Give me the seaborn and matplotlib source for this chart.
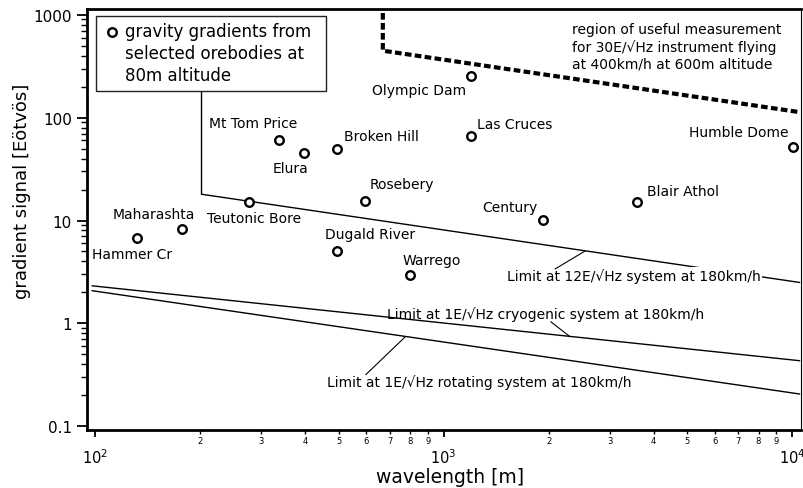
import matplotlib
matplotlib.use("Agg")
import matplotlib.pyplot as plt
import seaborn as sns
import pandas as pd
from matplotlib.ticker import FixedLocator, FixedFormatter
from matplotlib.patches import Rectangle

# Orebody gravity gradient signals (80 m altitude)
sites = ["Hammer Cr", "Maharashta", "Teutonic Bore", "Mt Tom Price", "Elura",
         "Broken Hill", "Rosebery", "Dugald River", "Warrego", "Olympic Dam",
         "Las Cruces", "Century", "Blair Athol", "Humble Dome"]
wavelength_m = [132, 177, 277, 337, 397, 495, 596, 495, 798, 1194, 1194, 1921, 3581, 10045]
signal_eo = [6.7, 8.3, 15.2, 60, 45.7, 49.7, 15.5, 5.0, 2.94, 252, 66, 10.2, 15.2, 52]

# Instrument detection limits
limit12_x = [202, 202, 10500]
limit12_y = [182, 18.0, 2.5]
cryo_x = [98, 10500]
cryo_y = [2.32, 0.434]
rot_x = [98, 10500]
rot_y = [2.08, 0.206]
useful_x = [669, 669, 10500]
useful_y = [1300, 447, 113]

x_major = [100, 1000, 10000]
x_major_labels = [r"$10^{2}$", r"$10^{3}$", r"$10^{4}$"]
x_minor = [m * d for d in (100, 1000) for m in range(2, 10)]
x_minor_labels = [str(m) for d in (100, 1000) for m in range(2, 10)]
y_major = [0.1, 1, 10, 100, 1000]
y_major_labels = ["0.1", "1", "10", "100", "1000"]

sns.set_style("ticks")
plt.rcParams["font.family"] = ["DejaVu Sans"]
plt.rcParams.update({"text.color": "black", "axes.labelcolor": "black",
                     "xtick.color": "black", "ytick.color": "black",
                     "axes.edgecolor": "black"})

W, H = 804, 489
fig = plt.figure(figsize=(W / 100, H / 100), dpi=100)
L, R, T, B = 87.3, 801.0, 10.0, 430.7
ax = fig.add_axes([L / W, 1 - B / H, (R - L) / W, (B - T) / H])
ax.set_xscale("log")
ax.set_yscale("log")
ax.set_xlim(95.0, 10591)
ax.set_ylim(0.0927, 1136)


def px(x, y):
    """pixel position -> axes fraction"""
    return (x - L) / (R - L), (B - y) / (B - T)


def pdata(x, y):
    """pixel position -> data coordinates"""
    return 10 ** (2 + (x - 95.0) / 348.65), 10 ** (3 - (y - 15.7) / 102.9)


df = pd.DataFrame({"site": sites, "wavelength": wavelength_m, "signal": signal_eo})

line_kw = dict(color="black", estimator=None, sort=False, ax=ax, legend=False)
sns.lineplot(x=limit12_x, y=limit12_y, lw=1.0, **line_kw)
sns.lineplot(x=cryo_x, y=cryo_y, lw=1.0, **line_kw)
sns.lineplot(x=rot_x, y=rot_y, lw=1.0, **line_kw)
sns.lineplot(x=useful_x, y=useful_y, lw=3.0, linestyle=(0, (1.6, 0.8)), **line_kw)

sns.scatterplot(data=df, x="wavelength", y="signal", marker="o", s=38,
                color="white", edgecolor="black", linewidth=1.7, zorder=5,
                ax=ax, legend=False)

label_layout = {
    "Hammer Cr": (-5, -16, "center"),
    "Maharashta": (-28, 15, "center"),
    "Teutonic Bore": (5, -16, "center"),
    "Mt Tom Price": (-26, 17, "center"),
    "Elura": (-13, -15, "center"),
    "Broken Hill": (7, 13, "left"),
    "Rosebery": (4, 17, "left"),
    "Dugald River": (-12, 17, "left"),
    "Warrego": (-7, 15, "left"),
    "Olympic Dam": (-4, -14, "right"),
    "Las Cruces": (6, 12, "left"),
    "Century": (-5, 13, "right"),
    "Blair Athol": (10, 11, "left"),
    "Humble Dome": (-4, 15, "right"),
}
for name, xv, yv in zip(sites, wavelength_m, signal_eo):
    dx, dy, ha = label_layout[name]
    ax.annotate(name, (xv, yv), xytext=(dx, dy), textcoords="offset pixels",
                ha=ha, va="center", fontsize=10, zorder=6, color="black")

# limit line labels with leaders
txt_kw = dict(fontsize=10, va="center", ha="left", zorder=6, color="black")
ax.text(*pdata(507, 276.7), "Limit at 12E/\u221aHz system at 180km/h",
        bbox=dict(facecolor="white", edgecolor="none", pad=1.0), **txt_kw)
ax.text(*pdata(386.7, 315), "Limit at 1E/\u221aHz cryogenic system at 180km/h", **txt_kw)
ax.text(*pdata(326.7, 383), "Limit at 1E/\u221aHz rotating system at 180km/h", **txt_kw)
for (x0, y0), (x1, y1) in [((555, 270), (585, 252)),
                           ((550.7, 322.7), (570, 337.7)),
                           ((365.7, 375.7), (405, 338))]:
    a, b = pdata(x0, y0)
    c, d = pdata(x1, y1)
    ax.plot([a, c], [b, d], color="black", lw=0.8, zorder=7)

ax.text(*px(571.7, 47.7), "region of useful measurement\nfor 30E/\u221aHz instrument flying\n"
        "at 400km/h at 600m altitude", transform=ax.transAxes, fontsize=10,
        ha="left", va="center", linespacing=1.25, color="black")

# legend box
x0, y0 = px(95.7, 91.7)
x1, y1 = px(325.7, 16.7)
ax.add_patch(Rectangle((x0, y0), x1 - x0, y1 - y0, transform=ax.transAxes,
                       facecolor="white", edgecolor="#222222", lw=1.0, zorder=4))
mx, my = px(111.7, 32.7)
ax.scatter([mx], [my], transform=ax.transAxes, s=38, marker="o",
           facecolor="white", edgecolor="black", linewidth=1.7, zorder=6)
ax.text(*px(125.3, 54), "gravity gradients from\nselected orebodies at\n80m altitude",
        transform=ax.transAxes, fontsize=12, ha="left", va="center",
        linespacing=1.26, zorder=6, color="black")

# axes styling
for side in ("left", "bottom", "top"):
    ax.spines[side].set_linewidth(2.0)
ax.spines["right"].set_linewidth(0.8)
for s in ax.spines.values():
    s.set_visible(True)
    s.set_color("black")

ax.xaxis.set_major_locator(FixedLocator(x_major))
ax.xaxis.set_major_formatter(FixedFormatter(x_major_labels))
ax.xaxis.set_minor_locator(FixedLocator(x_minor))
ax.xaxis.set_minor_formatter(FixedFormatter(x_minor_labels))
ax.yaxis.set_major_locator(FixedLocator(y_major))
ax.yaxis.set_major_formatter(FixedFormatter(y_major_labels))

ax.tick_params(axis="x", which="major", length=5, width=1.3, pad=8, labelsize=10.5,
               direction="out", colors="black")
ax.tick_params(axis="x", which="minor", length=3, width=1.0, pad=1.5, labelsize=6,
               direction="out", colors="black")
ax.tick_params(axis="y", which="major", length=7, width=1.3, pad=4, labelsize=11,
               direction="out", colors="black")
ax.tick_params(axis="y", which="minor", length=4, width=1.0, direction="out",
               colors="black")
ax.tick_params(top=False, right=False, which="both")

ax.set_xlabel("")
ax.set_ylabel("")
fig.text(450 / W, 1 - 478 / H, "wavelength [m]", fontsize=13.5, ha="center",
         va="center", color="black")
fig.text(22 / W, 1 - 191 / H, "gradient signal [E\u00f6tv\u00f6s]", fontsize=13,
         rotation=90, ha="center", va="center", color="black")

fig.savefig("out.png", dpi=100)
